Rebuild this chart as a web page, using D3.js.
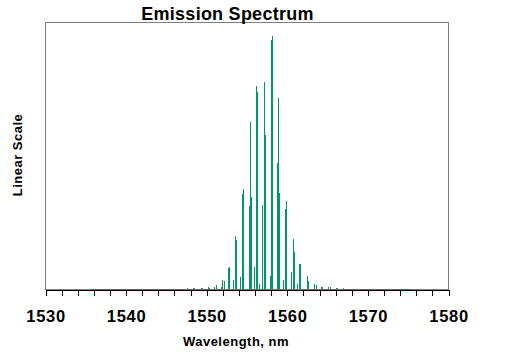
<!DOCTYPE html>
<html>
<head>
<meta charset="utf-8">
<script src="https://cdn.jsdelivr.net/npm/d3@7"></script>
<style>
  html, body { margin: 0; padding: 0; background: #fff; }
  svg { display: block; }
  text { font-family: "Liberation Sans", Arial, sans-serif; font-weight: bold; fill: #000; }
</style>
</head>
<body>
<svg id="chart" width="506" height="359"></svg>
<script>
// ---- data ----
const title = "Emission Spectrum";
const xTitle = "Wavelength, nm";
const yTitle = "Linear Scale";
const xTickLabels = [1530, 1540, 1550, 1560, 1570, 1580];
const xMinorTicks = [1530,1532,1534,1536,1538,1540,1542,1544,1546,1548,1550,1552,1554,1556,1558,1560,1562,1564,1566,1568,1570,1572,1574,1576,1578,1580];
const baselineRange = [1535.58, 1575.53];
// spectral lines: wavelength (nm) and intensity (arbitrary linear units, 0-100)
const lineWavelength = [
  1547.62, 1548.36, 1548.49, 1549.35, 1549.48, 1550.22, 1550.35, 1550.97, 1551.22,
  1551.84, 1551.96, 1552.21, 1552.70, 1552.83, 1553.33, 1553.57, 1553.70,
  1554.19, 1554.44, 1554.57, 1555.31, 1555.43, 1555.56, 1555.93, 1556.18, 1556.30, 1556.55,
  1556.92, 1557.17, 1557.30, 1557.92, 1558.04, 1558.16, 1558.78, 1558.91, 1559.03,
  1559.53, 1559.78, 1559.90, 1560.52, 1560.77, 1560.89, 1561.27, 1561.51, 1561.64,
  1562.51, 1562.63, 1563.37, 1563.62, 1564.24, 1564.37, 1565.11, 1565.36,
  1566.10, 1566.23, 1566.97
];
const lineIntensity = [
  0.4, 0.4, 0.4, 0.4, 0.4, 0.8, 0.4, 1.1, 1.5,
  0.8, 3.4, 3.0, 8.2, 8.6, 3.4, 19.9, 18.7,
  4.5, 35.6, 37.5, 31.1, 62.9, 34.8, 8.6, 76.4, 73.8, 2.2,
  31.5, 77.9, 57.7, 5.2, 93.3, 94.8, 47.2, 71.9, 36.0,
  3.7, 30.3, 33.3, 6.7, 19.1, 13.9, 2.2, 9.7, 9.4,
  5.2, 3.0, 2.2, 1.5, 1.1, 0.8, 0.8, 0.8,
  0.4, 0.4, 0.4
];

// ---- chart ----
const svg = d3.select("#chart");
const x = d3.scaleLinear().domain([1530, 1580]).range([45.5, 448.5]);
const y = d3.scaleLinear().domain([0, 100]).range([289.5, 22.5]);

// frame
svg.append("rect")
  .attr("x", x(1530)).attr("y", y(100))
  .attr("width", x(1580) - x(1530)).attr("height", y(0) - y(100))
  .attr("fill", "none").attr("stroke", "#808080").attr("stroke-width", 1)
  .attr("shape-rendering", "crispEdges");

// x axis
const axis = d3.axisBottom(x)
  .tickValues(xMinorTicks)
  .tickSize(6)
  .tickFormat(d => xTickLabels.includes(d) ? String(d) : "");
const gx = svg.append("g")
  .attr("transform", `translate(0,${y(0)})`)
  .attr("shape-rendering", "crispEdges")
  .call(axis);
gx.select(".domain").attr("stroke", "#000");
gx.selectAll(".tick line").attr("stroke", "#000");
gx.selectAll(".tick text")
  .attr("y", 21)
  .style("font-size", "16.5px")
  .style("letter-spacing", "0.7px")
  .style("font-family", "'Liberation Sans', Arial, sans-serif")
  .style("font-weight", "bold")
  .attr("fill", "#000");

// spectrum line
const pts = [[baselineRange[0], 0]];
lineWavelength.forEach((w, i) => {
  pts.push([w, 0], [w, lineIntensity[i]], [w, 0]);
});
pts.push([baselineRange[1], 0]);
const line = d3.line().x(d => x(d[0])).y(d => y(d[1]));
svg.append("path")
  .datum(pts)
  .attr("d", line)
  .attr("fill", "none")
  .attr("stroke", "#009966")
  .attr("stroke-width", 1)
  .attr("shape-rendering", "crispEdges");

// titles
svg.append("text")
  .attr("x", 227.5).attr("y", 20)
  .attr("text-anchor", "middle")
  .style("font-size", "18px")
  .style("letter-spacing", "0.25px")
  .text(title);
svg.append("text")
  .attr("x", 236).attr("y", 346)
  .attr("text-anchor", "middle")
  .style("font-size", "13px")
  .style("letter-spacing", "0.5px")
  .text(xTitle);
svg.append("text")
  .attr("transform", "translate(22,155) rotate(-90)")
  .attr("text-anchor", "middle")
  .style("font-size", "13px")
  .style("letter-spacing", "0.5px")
  .text(yTitle);
</script>
</body>
</html>
